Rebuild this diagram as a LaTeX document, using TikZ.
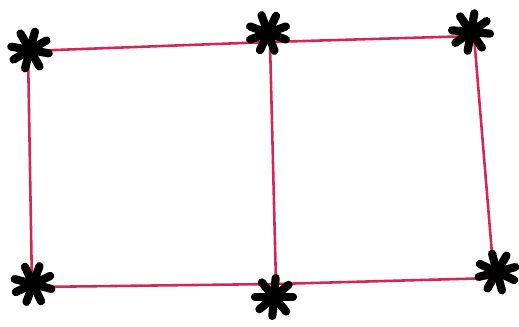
\documentclass[tikz,border=0pt]{standalone}
\usetikzlibrary{calc}
\definecolor{edgered}{RGB}{214,38,88}
\tikzset{
  edge/.style={draw=edgered, line width=2.2pt},
  starstroke/.style={draw=black, line width=7pt, line cap=round},
}
\begin{document}
\begin{tikzpicture}[x=0.03cm,y=-0.03cm]
  \useasboundingbox (0,0) rectangle (519,326);
  % vertices
  \coordinate (tl) at (28,51);
  \coordinate (tm) at (270,42);
  \coordinate (tr) at (474,36);
  \coordinate (bl) at (32,287);
  \coordinate (bm) at (276,284);
  \coordinate (br) at (494,278);
  % edges
  \draw[edge] (tl) -- (tm) -- (tr) -- (br) -- (bm) -- (bl) -- cycle;
  \draw[edge] (tm) -- (bm);
  % asterisks
  \foreach \v/\dx/\dy/\r in {tl/2/-1/10, tm/-2/-9/20, tr/-3/-4/5,
                             bl/1/-3/15, bm/-2/13/0, br/3/-6/25}
    \foreach \a in {0,50,95,140}
      \draw[starstroke] ($(\v)+(\dx,\dy)$) ++(\a+\r:19) -- ++(\a+\r+180:38);
\end{tikzpicture}
\end{document}
